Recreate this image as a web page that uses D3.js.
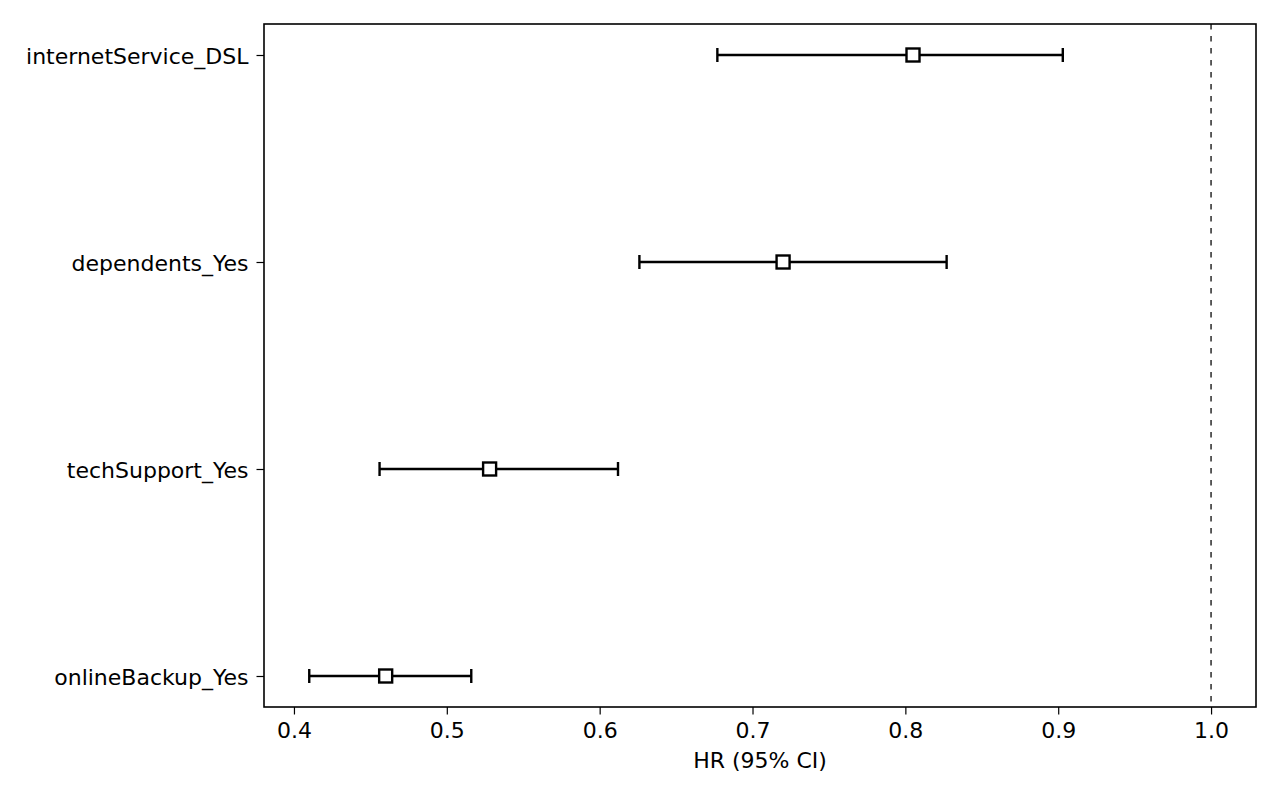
<!DOCTYPE html>
<html>
<head>
<meta charset="utf-8">
<script src="https://cdn.jsdelivr.net/npm/d3@7"></script>
<style>
  body { margin: 0; background: #fff; }
  svg text { font-family: "DejaVu Sans", sans-serif; fill: #000; }
</style>
</head>
<body>
<div id="chart"></div>
<script>
// covariates, top to bottom
var covariates = ["internetService_DSL", "dependents_Yes", "techSupport_Yes", "onlineBackup_Yes"];
var hazardRatio = [0.805, 0.720, 0.528, 0.460];
var ciLower = [0.677, 0.626, 0.456, 0.410];
var ciUpper = [0.903, 0.827, 0.612, 0.516];
var xTicks = [0.4, 0.5, 0.6, 0.7, 0.8, 0.9, 1.0];

var width = 1280, height = 800;
var margin = {top: 24, right: 24, bottom: 93, left: 264};
var fontSize = "22px";

var svg = d3.select("#chart").append("svg")
    .attr("width", width)
    .attr("height", height);

var x = d3.scaleLinear()
    .domain([0.3804, 1.0294])
    .range([margin.left, width - margin.right]);

var y = d3.scalePoint()
    .domain(covariates)
    .range([margin.top + 31, height - margin.bottom - 31]);

// reference line at HR = 1
svg.append("line")
    .attr("x1", x(1)).attr("x2", x(1))
    .attr("y1", margin.top).attr("y2", height - margin.bottom)
    .attr("stroke", "#4d4d4d")
    .attr("stroke-width", 1.8)
    .attr("stroke-dasharray", "5.5,6.5");

var rows = covariates.map(function(c, i) {
    return {name: c, hr: hazardRatio[i], lo: ciLower[i], hi: ciUpper[i]};
});

var g = svg.append("g").attr("class", "rows");

g.selectAll(".ci").data(rows).enter().append("line")
    .attr("class", "ci")
    .attr("x1", function(d) { return x(d.lo); })
    .attr("x2", function(d) { return x(d.hi); })
    .attr("y1", function(d) { return y(d.name); })
    .attr("y2", function(d) { return y(d.name); })
    .attr("stroke", "#000").attr("stroke-width", 2.4);

["lo", "hi"].forEach(function(k) {
    g.selectAll(".cap-" + k).data(rows).enter().append("line")
        .attr("class", "cap-" + k)
        .attr("x1", function(d) { return x(d[k]); })
        .attr("x2", function(d) { return x(d[k]); })
        .attr("y1", function(d) { return y(d.name) - 7; })
        .attr("y2", function(d) { return y(d.name) + 7; })
        .attr("stroke", "#000").attr("stroke-width", 2.4);
});

var box = 13;
g.selectAll(".hr").data(rows).enter().append("rect")
    .attr("class", "hr")
    .attr("x", function(d) { return x(d.hr) - box / 2; })
    .attr("y", function(d) { return y(d.name) - box / 2; })
    .attr("width", box).attr("height", box)
    .attr("fill", "#fff")
    .attr("stroke", "#000").attr("stroke-width", 2.4);

// axes
var xAxis = svg.append("g")
    .attr("transform", "translate(0," + (height - margin.bottom) + ")")
    .call(d3.axisBottom(x).tickValues(xTicks).tickFormat(d3.format(".1f")).tickSizeOuter(0).tickSize(7.5).tickPadding(8));

var yAxis = svg.append("g")
    .attr("transform", "translate(" + margin.left + ",0)")
    .call(d3.axisLeft(y).tickSizeOuter(0).tickSize(7.5).tickPadding(8));

[xAxis, yAxis].forEach(function(a) {
    a.selectAll(".domain").remove();
    a.selectAll(".tick line").attr("stroke", "#000").attr("stroke-width", 1.2);
    a.selectAll(".tick text").style("font-size", fontSize).style("font-family", "DejaVu Sans, sans-serif");
});
yAxis.selectAll(".tick text").attr("dy", "0.38em");

// frame
svg.append("rect")
    .attr("x", margin.left).attr("y", margin.top)
    .attr("width", width - margin.left - margin.right)
    .attr("height", height - margin.top - margin.bottom)
    .attr("fill", "none")
    .attr("stroke", "#000").attr("stroke-width", 1.6);

svg.append("text")
    .attr("x", (margin.left + width - margin.right) / 2)
    .attr("y", 768)
    .attr("text-anchor", "middle")
    .style("font-size", fontSize)
    .text("HR (95% CI)");
</script>
</body>
</html>
